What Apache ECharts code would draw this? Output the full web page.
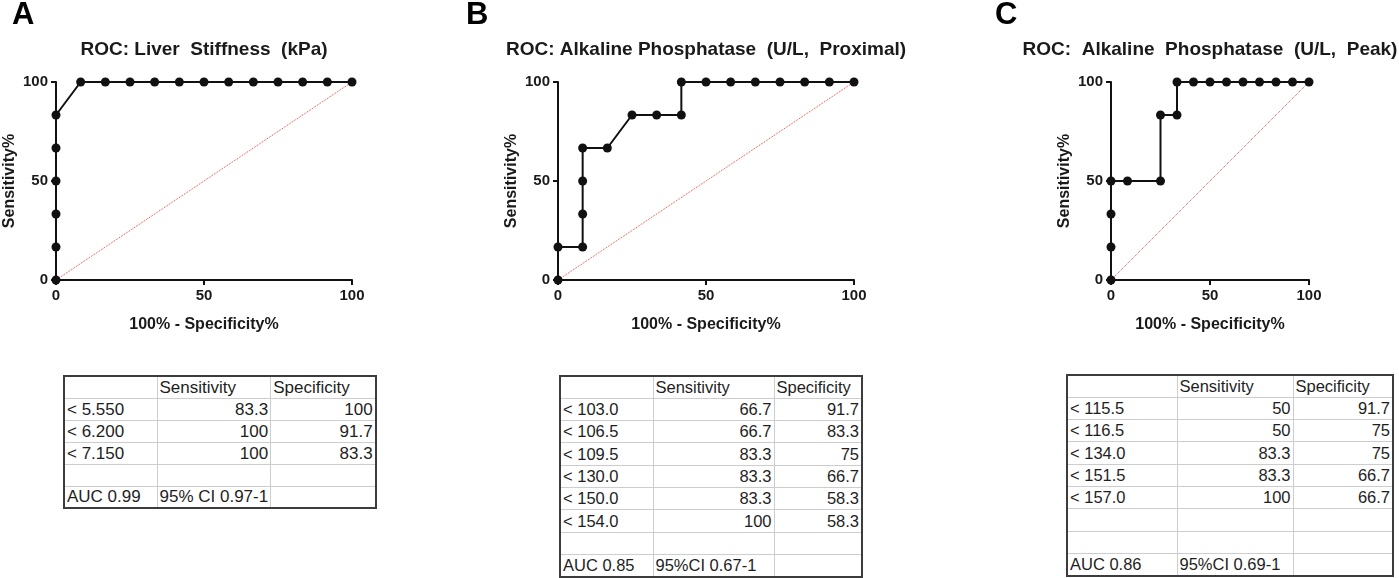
<!DOCTYPE html>
<html>
<head>
<meta charset="utf-8">
<script type="text/javascript" src="https://cdn.jsdelivr.net/npm/echarts@6/dist/echarts.min.js"></script>
<style>
  body { margin: 0; background: #fff; }
  #wrap { position: relative; width: 1399px; height: 578px; overflow: hidden; }
  #main { position: absolute; left: 0; top: 0; width: 1399px; height: 578px; }
  table.roc { position: absolute; border-collapse: collapse; table-layout: fixed;
    font-family: "Liberation Sans", Arial, sans-serif; color: #1e1e1e; background: #fff;
    border: 2px solid #3c3c3c; }
  table.roc td { border: 1.5px solid #cdcdcd; padding: 0 2px; white-space: nowrap; overflow: hidden;
    line-height: 1; vertical-align: middle; }
  table.roc td.num { text-align: right; }
</style>
</head>
<body>
<div id="wrap">
  <div id="main"></div>
</div>
<script type="text/javascript">
// ROC curves: x = 100% - specificity, y = sensitivity
var fprA = [0, 0, 0, 0, 0, 0, 8.33, 16.67, 25, 33.33, 41.67, 50, 58.33, 66.67, 75, 83.33, 91.67, 100];
var sensA = [0, 16.67, 33.33, 50, 66.67, 83.33, 100, 100, 100, 100, 100, 100, 100, 100, 100, 100, 100, 100];

var fprB = [0, 0, 8.33, 8.33, 8.33, 8.33, 16.67, 25, 33.33, 41.67, 41.67, 50, 58.33, 66.67, 75, 83.33, 91.67, 100];
var sensB = [0, 16.67, 16.67, 33.33, 50, 66.67, 66.67, 83.33, 83.33, 83.33, 100, 100, 100, 100, 100, 100, 100, 100];

var fprC = [0, 0, 0, 0, 8.33, 25, 25, 33.33, 33.33, 41.67, 50, 58.33, 66.67, 75, 83.33, 91.67, 100];
var sensC = [0, 16.67, 33.33, 50, 50, 50, 83.33, 83.33, 100, 100, 100, 100, 100, 100, 100, 100, 100];

// reference (chance) line
var chanceX = [0, 100];
var chanceY = [0, 100];

var axisTicks = [0, 50, 100];
var panelLetters = ['A', 'B', 'C'];
var panelTitles = [
  'ROC: Liver  Stiffness  (kPa)',
  'ROC: Alkaline Phosphatase  (U/L,  Proximal)',
  'ROC:  Alkaline  Phosphatase  (U/L,  Peak)'
];
var xName = '100% - Specificity%';
var yName = 'Sensitivity%';

// tables under each curve
var tableHeader = ['', 'Sensitivity', 'Specificity'];
var cutoffsA = ['< 5.550', '< 6.200', '< 7.150'];
var tabSensA = ['83.3', '100', '100'];
var tabSpecA = ['100', '91.7', '83.3'];
var aucA = ['AUC 0.99', '95% CI 0.97-1'];

var cutoffsB = ['< 103.0', '< 106.5', '< 109.5', '< 130.0', '< 150.0', '< 154.0'];
var tabSensB = ['66.7', '66.7', '83.3', '83.3', '83.3', '100'];
var tabSpecB = ['91.7', '83.3', '75', '66.7', '58.3', '58.3'];
var aucB = ['AUC 0.85', '95%CI 0.67-1'];

var cutoffsC = ['< 115.5', '< 116.5', '< 134.0', '< 151.5', '< 157.0'];
var tabSensC = ['50', '50', '83.3', '83.3', '100'];
var tabSpecC = ['91.7', '75', '75', '66.7', '66.7'];
var aucC = ['AUC 0.86', '95%CI 0.69-1'];

function zip(xs, ys) {
  return xs.map(function (x, i) { return [x, ys[i]]; });
}

var FONT = '"Liberation Sans", Arial, Helvetica, sans-serif';

// plot areas (px)
var grids = [
  { left: 56, top: 82, width: 296, height: 198, outerBoundsMode: 'none' },
  { left: 558, top: 82, width: 296, height: 198, outerBoundsMode: 'none' },
  { left: 1111, top: 82, width: 198, height: 198, outerBoundsMode: 'none' }
];
var letterPos = [[12, 15], [466, 15], [995, 15]];

function makeAxis(i, isX) {
  return {
    type: 'value',
    gridIndex: i,
    min: axisTicks[0],
    max: axisTicks[axisTicks.length - 1],
    interval: axisTicks[1] - axisTicks[0],
    name: isX ? xName : yName,
    nameLocation: 'middle',
    nameGap: isX ? 37 : 38,
    nameTextStyle: { fontFamily: FONT, fontWeight: 'bold', fontSize: 16, color: '#1a1a1a' },
    axisLine: { show: true, lineStyle: { color: '#111', width: 2 } },
    axisTick: { show: true, length: 5, lineStyle: { color: '#111', width: 2 } },
    axisLabel: { fontFamily: FONT, fontWeight: 'bold', fontSize: 15, color: '#1a1a1a', margin: 8 },
    splitLine: { show: false }
  };
}

var rocData = [zip(fprA, sensA), zip(fprB, sensB), zip(fprC, sensC)];
var series = [];
var graphic = [];
grids.forEach(function (g, i) {
  series.push({
    type: 'line',
    xAxisIndex: i,
    yAxisIndex: i,
    data: zip(chanceX, chanceY),
    symbol: 'none',
    silent: true,
    lineStyle: { color: '#e8473b', width: 1, type: 'dotted' },
    z: 2
  });
  series.push({
    type: 'line',
    xAxisIndex: i,
    yAxisIndex: i,
    data: rocData[i],
    symbol: 'circle',
    symbolSize: 9,
    clip: false,
    lineStyle: { color: '#111', width: 2 },
    itemStyle: { color: '#111' },
    z: 3
  });
  graphic.push({
    type: 'text',
    x: g.left + g.width / 2,
    y: 50,
    style: { text: panelTitles[i], align: 'center', verticalAlign: 'middle',
      font: 'bold 19px ' + FONT, fill: '#1a1a1a' }
  });
  graphic.push({
    type: 'text',
    x: letterPos[i][0],
    y: letterPos[i][1],
    style: { text: panelLetters[i], align: 'left', verticalAlign: 'middle',
      font: 'bold 31px ' + FONT, fill: '#000' }
  });
});

var myChart = echarts.init(document.getElementById('main'));
myChart.setOption({
  animation: false,
  grid: grids,
  xAxis: grids.map(function (g, i) { return makeAxis(i, true); }),
  yAxis: grids.map(function (g, i) { return makeAxis(i, false); }),
  series: series,
  graphic: graphic
});

// threshold tables
function buildTable(opts) {
  var t = document.createElement('table');
  t.className = 'roc';
  t.style.left = opts.left + 'px';
  t.style.top = opts.top + 'px';
  t.style.fontSize = opts.fontSize + 'px';
  var cg = document.createElement('colgroup');
  opts.cols.forEach(function (w) {
    var c = document.createElement('col');
    c.style.width = w + 'px';
    cg.appendChild(c);
  });
  t.appendChild(cg);
  function addRow(cells, numeric) {
    var tr = document.createElement('tr');
    tr.style.height = opts.rowH + 'px';
    cells.forEach(function (txt, j) {
      var td = document.createElement('td');
      td.textContent = txt;
      if (numeric && j > 0) td.className = 'num';
      tr.appendChild(td);
    });
    t.appendChild(tr);
  }
  addRow(tableHeader, false);
  opts.cutoffs.forEach(function (c, k) {
    addRow([c, opts.sens[k], opts.spec[k]], true);
  });
  for (var b = 0; b < opts.blank; b++) addRow(['', '', ''], false);
  addRow([opts.auc[0], opts.auc[1], ''], false);
  document.getElementById('wrap').appendChild(t);
}

buildTable({ left: 63, top: 375, cols: [93, 110, 105], rowH: 22, fontSize: 17,
  cutoffs: cutoffsA, sens: tabSensA, spec: tabSpecA, blank: 1, auc: aucA });
buildTable({ left: 559, top: 375, cols: [93, 121, 88], rowH: 22.3, fontSize: 16.5,
  cutoffs: cutoffsB, sens: tabSensB, spec: tabSpecB, blank: 1, auc: aucB });
buildTable({ left: 1066, top: 374, cols: [110, 116, 100], rowH: 22.3, fontSize: 16.5,
  cutoffs: cutoffsC, sens: tabSensC, spec: tabSpecC, blank: 2, auc: aucC });
</script>
</body>
</html>
